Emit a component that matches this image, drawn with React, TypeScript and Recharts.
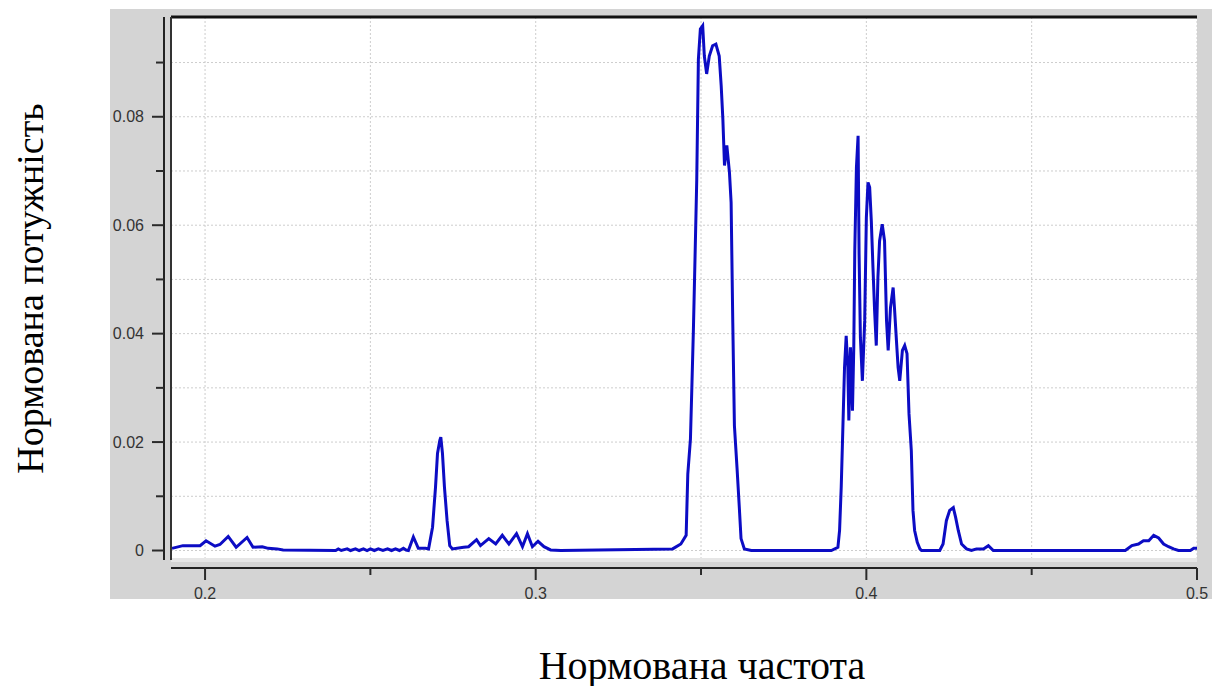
import React from 'react';
import { LineChart, Line, XAxis, YAxis, CartesianGrid, Label } from 'recharts';

// Normalised power spectrum, split into frequency bands (frequency / power pairs)
const lowBandFreq = [0.19, 0.1933, 0.1985, 0.2003, 0.203, 0.2045, 0.207, 0.2094, 0.2127, 0.2145, 0.2173, 0.2191, 0.2218, 0.2236];
const lowBandPow = [0.0004, 0.0009, 0.0009, 0.0018, 0.0008, 0.0011, 0.0026, 0.0006, 0.0024, 0.0006, 0.0007, 0.0004, 0.0003, 0.0001];

const rippleFreq = [0.2395, 0.2403, 0.2412, 0.243, 0.244, 0.2455, 0.2466, 0.2479, 0.249, 0.25, 0.2512, 0.2524, 0.2538, 0.2552, 0.2564, 0.2576, 0.2588, 0.26, 0.2608];
const ripplePow = [0, 0.0003, 0, 0.0003, 0, 0.0003, 0, 0.0003, 0, 0.0003, 0, 0.0003, 0, 0.0003, 0, 0.0003, 0, 0.0004, 0.0001];

const peak027Freq = [0.2615, 0.263, 0.2645, 0.2667, 0.2676, 0.2688, 0.2697, 0.2703, 0.271, 0.2713, 0.2718, 0.2724, 0.2732, 0.274, 0.2748];
const peak027Pow = [0, 0.0025, 0.0004, 0.0004, 0.0003, 0.0043, 0.0117, 0.0179, 0.0203, 0.0209, 0.0179, 0.0117, 0.0055, 0.0009, 0.0003];

const midBandFreq = [0.2782, 0.2797, 0.2821, 0.2833, 0.2858, 0.2879, 0.2899, 0.2919, 0.2942, 0.296, 0.2975, 0.299, 0.3007, 0.3025, 0.3045, 0.3076];
const midBandPow = [0.0006, 0.0007, 0.002, 0.0009, 0.0022, 0.0012, 0.0028, 0.0012, 0.0031, 0.0007, 0.0031, 0.0007, 0.0017, 0.0007, 0.0001, 0];

const peak035Freq = [0.3414, 0.3439, 0.3455, 0.346, 0.3468, 0.3472, 0.3477, 0.3482, 0.3487, 0.3492, 0.3498, 0.3505, 0.351, 0.3517, 0.3525, 0.3535, 0.3545, 0.3555, 0.3561, 0.3566, 0.3571, 0.3578, 0.3586, 0.3591, 0.3596, 0.3601, 0.3609, 0.3616, 0.3621, 0.3631, 0.3652];
const peak035Pow = [0.0003, 0.0012, 0.0028, 0.0141, 0.0206, 0.0295, 0.0409, 0.0544, 0.0682, 0.0906, 0.0962, 0.0968, 0.0912, 0.0879, 0.0912, 0.0931, 0.0934, 0.0912, 0.0857, 0.0796, 0.071, 0.0747, 0.0697, 0.0642, 0.0421, 0.023, 0.0151, 0.0077, 0.0022, 0.0003, 0];

const cluster040Freq = [0.3894, 0.3914, 0.3919, 0.3924, 0.3929, 0.3934, 0.3939, 0.3944, 0.3947, 0.3952, 0.3958, 0.3962, 0.3965, 0.397, 0.3975, 0.3978, 0.3982, 0.3988, 0.3995, 0.4, 0.4005, 0.401, 0.4015, 0.402, 0.4025, 0.403, 0.4035, 0.404, 0.4048, 0.4055, 0.4061, 0.4066, 0.4073, 0.4081, 0.4085, 0.4091, 0.4096, 0.4101, 0.4109, 0.4116, 0.4123, 0.4129, 0.4136, 0.4141, 0.4146, 0.4154, 0.4162, 0.4167];
const cluster040Pow = [0, 0.0006, 0.0037, 0.0117, 0.0227, 0.0338, 0.0396, 0.0338, 0.024, 0.0375, 0.0258, 0.0375, 0.0553, 0.0707, 0.0765, 0.0547, 0.0393, 0.0313, 0.0424, 0.0614, 0.0679, 0.067, 0.0608, 0.0522, 0.0442, 0.0378, 0.0504, 0.0571, 0.0602, 0.0571, 0.0424, 0.0369, 0.0448, 0.0485, 0.0448, 0.0387, 0.0338, 0.0313, 0.0369, 0.0378, 0.0363, 0.0252, 0.0184, 0.0074, 0.0037, 0.0015, 0.0003, 0];

const peak043Freq = [0.4222, 0.4232, 0.4242, 0.4252, 0.4263, 0.427, 0.4278, 0.4288, 0.4303, 0.4318, 0.4333, 0.4354, 0.4369, 0.4384];
const peak043Pow = [0, 0.0012, 0.0055, 0.0074, 0.0079, 0.0061, 0.0037, 0.0012, 0.0003, 0, 0.0003, 0.0003, 0.0009, 0];

const highBandFreq = [0.4783, 0.4803, 0.4823, 0.4838, 0.4854, 0.4869, 0.4884, 0.4899, 0.4914, 0.4929, 0.4944, 0.498, 0.499, 0.5];
const highBandPow = [0, 0.0009, 0.0012, 0.0018, 0.0018, 0.0028, 0.0023, 0.0012, 0.0007, 0.0003, 0, 0, 0.0004, 0.0004];

const bands: [number[], number[]][] = [
  [lowBandFreq, lowBandPow],
  [rippleFreq, ripplePow],
  [peak027Freq, peak027Pow],
  [midBandFreq, midBandPow],
  [peak035Freq, peak035Pow],
  [cluster040Freq, cluster040Pow],
  [peak043Freq, peak043Pow],
  [highBandFreq, highBandPow],
];

const data = bands.flatMap(([f, p]) => f.map((v, i) => ({ f: v, p: p[i] })));

const xTicks = [0.2, 0.25, 0.3, 0.35, 0.4, 0.45, 0.5];
const yTicks = [0, 0.01, 0.02, 0.03, 0.04, 0.05, 0.06, 0.07, 0.08, 0.09];
const xDomain: [number, number] = [0.1897, 0.5];
const yDomain: [number, number] = [-0.00175, 0.0984];

const xTitle = 'Нормована частота';
const yTitle = 'Нормована потужність';

const tickFont = '"Liberation Sans", Arial, sans-serif';
const titleFont = '"Liberation Serif", "Times New Roman", serif';

const YTick = (props: any) => {
  const { x, y, payload } = props;
  const v: number = payload.value;
  const major = Math.round(v * 100) % 2 === 0;
  return (
    <g>
      <line x1={x - (major ? 12 : 8)} x2={x} y1={y} y2={y} stroke="#2a2a2a" strokeWidth={2} />
      {major && (
        <text x={x - 20} y={y} textAnchor="end" dominantBaseline="central" fontSize={16} fontFamily={tickFont} fill="#333">
          {v === 0 ? '0' : v.toFixed(2)}
        </text>
      )}
    </g>
  );
};

const XTick = (props: any) => {
  const { x, y, payload } = props;
  const v: number = payload.value;
  const major = Math.abs(v * 10 - Math.round(v * 10)) < 1e-6;
  return (
    <g>
      <line x1={x} x2={x} y1={y} y2={y + (major ? 12 : 7)} stroke="#2a2a2a" strokeWidth={2} />
      {major && (
        <text x={x} y={y + 25} textAnchor="middle" dominantBaseline="central" fontSize={16} fontFamily={tickFont} fill="#333">
          {v.toFixed(1)}
        </text>
      )}
    </g>
  );
};

const XTitle = (props: any) => {
  const vb = props.viewBox;
  return (
    <text x={vb.x + vb.width / 2 + 18} y={vb.y + vb.height + 57} textAnchor="middle" dominantBaseline="central" fontSize={40} fontFamily={titleFont} fill="#000">
      {xTitle}
    </text>
  );
};

const YTitle = (props: any) => {
  const vb = props.viewBox;
  const cx = vb.x + 30;
  const cy = vb.y + vb.height / 2;
  return (
    <text x={cx} y={cy} transform={`rotate(-90 ${cx} ${cy})`} textAnchor="middle" dominantBaseline="central" fontSize={38} fontFamily={titleFont} fill="#000">
      {yTitle}
    </text>
  );
};

export default function App() {
  return (
    <div style={{ position: 'absolute', left: 0, top: 0, width: 1212, height: 686, background: '#fff' }}>
      <div style={{ position: 'absolute', left: 110, top: 9, width: 1102, height: 590, background: '#d4d4d4' }} />
      <div style={{ position: 'absolute', left: 0, top: 0 }}>
        <LineChart width={1212} height={686} data={data} margin={{ top: 16, right: 15, bottom: 78, left: 0 }}>
          <CartesianGrid xAxisId="main" yAxisId="main" stroke="#cdcdcd" strokeDasharray="2 2" fill="#ffffff" />
          <XAxis xAxisId="frameTop" orientation="top" type="number" domain={xDomain} allowDataOverflow height={1} tick={false} tickLine={false} axisLine={{ stroke: '#111', strokeWidth: 3 }} />
          <XAxis xAxisId="gap" orientation="bottom" type="number" domain={xDomain} allowDataOverflow height={8} tick={false} tickLine={false} axisLine={{ stroke: '#e6e6e6', strokeWidth: 4 }} />
          <XAxis
            xAxisId="main"
            dataKey="f"
            type="number"
            domain={xDomain}
            allowDataOverflow
            ticks={xTicks}
            interval={0}
            height={40}
            tickSize={0}
            tickMargin={0}
            tick={<XTick />}
            tickLine={false}
            axisLine={{ stroke: '#222', strokeWidth: 2 }}
          >
            <Label content={<XTitle />} />
          </XAxis>
          <YAxis yAxisId="frame" type="number" domain={yDomain} allowDataOverflow width={7} tick={false} tickLine={false} axisLine={{ stroke: '#333', strokeWidth: 2 }} />
          <YAxis
            yAxisId="main"
            type="number"
            domain={yDomain}
            allowDataOverflow
            ticks={yTicks}
            interval={0}
            width={164}
            tickSize={0}
            tickMargin={0}
            tick={<YTick />}
            tickLine={false}
            axisLine={{ stroke: '#222', strokeWidth: 2 }}
          >
            <Label content={<YTitle />} />
          </YAxis>
          <Line xAxisId="main" yAxisId="main" dataKey="p" type="linear" stroke="#0c0cc4" strokeWidth={3} dot={false} isAnimationActive={false} />
        </LineChart>
      </div>
    </div>
  );
}
